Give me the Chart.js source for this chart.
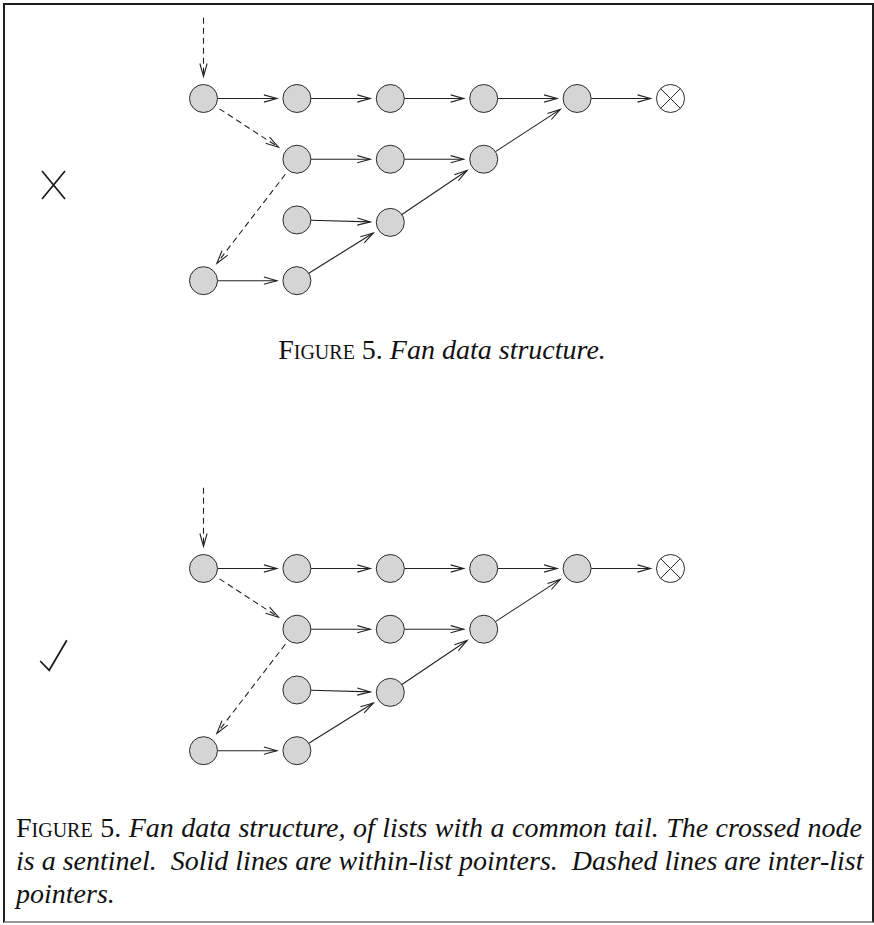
<!DOCTYPE html>
<html>
<head>
<meta charset="utf-8">
<script src="https://cdn.jsdelivr.net/npm/chart.js@4.4.1/dist/chart.umd.min.js"></script>
<style>
  html, body { margin:0; padding:0; background:#fff; }
  #page { position:relative; width:874px; height:925px; overflow:hidden; }
  #frame { position:absolute; left:3px; top:3px; width:871px; height:920px; box-sizing:border-box;
    border:2px solid #1e1e1e; border-bottom-color:#9a9a9a; }
  canvas { position:absolute; left:0; }
  .cap { position:absolute; font-family:"Liberation Serif", "Times New Roman", serif; font-size:28px;
    line-height:33px; color:#111; white-space:nowrap; }
  .sc { font-variant:small-caps; }
  .it { font-style:italic; }
  .just { text-align:justify; text-align-last:justify; }
</style>
</head>
<body>
<div id="page">
  <div id="frame"></div>
  <canvas id="topChart" width="874" height="330" style="top:0px"></canvas>
  <canvas id="bottomChart" width="874" height="330" style="top:470px"></canvas>
  <div class="cap" style="left:0;width:884px;top:333px;text-align:center;">
    <span class="sc">Figure</span> 5. <span class="it">Fan data structure.</span>
  </div>
  <div class="cap" style="left:16px;width:846px;top:811px;">
    <div class="just"><span class="sc">Figure</span> 5. <span class="it">Fan data structure, of lists with a common tail. The crossed node</span></div>
    <div class="just it">is a sentinel.&nbsp; Solid lines are within-list pointers.&nbsp; Dashed lines are inter-list</div>
    <div class="it">pointers.</div>
  </div>
</div>
<script>
// node grid positions: column and row of every list node
const nodeCols = [0, 1, 2, 3, 4, 1, 2, 3, 1, 2,    0, 1, 5];
const nodeRows = [0, 0, 0, 0, 0, 1, 1, 1, 2, 2.04, 3, 3, 0];
const sentinelIndex = 12;

// pointers between nodes (indices into the arrays above)
const solidEdges = [[0,1],[1,2],[2,3],[3,4],[4,12],[5,6],[6,7],[7,4],[8,9],[9,7],[10,11],[11,9]];
const dashedEdges = [[0,5],[5,10]];
// the incoming head pointer starts above node 0
const headStart = {x:0, y:-1.33};
const headTarget = 0;

// where the left mark (cross or tick) sits
const markPos = {x:-1.606, y:1.424};

const nodeR = 14;

function nodePoint(i) {
  return {x: nodeCols[i], y: nodeRows[i]};
}

function arrow(ctx, a, b, startOff, endOff, dashed) {
  var dx = b.x - a.x, dy = b.y - a.y;
  var len = Math.sqrt(dx*dx + dy*dy);
  var ux = dx/len, uy = dy/len;
  var sx = a.x + ux*startOff, sy = a.y + uy*startOff;
  var ex = b.x - ux*endOff, ey = b.y - uy*endOff;
  ctx.save();
  ctx.strokeStyle = '#222';
  ctx.lineWidth = 1.1;
  if (dashed) ctx.setLineDash([6, 4]);
  ctx.beginPath();
  ctx.moveTo(sx, sy);
  ctx.lineTo(ex, ey);
  ctx.stroke();
  ctx.setLineDash([]);
  // open arrow head
  var hl = 13, hw = 3.6;
  var px = -uy, py = ux;
  ctx.beginPath();
  ctx.moveTo(ex - ux*hl + px*hw, ey - uy*hl + py*hw);
  ctx.lineTo(ex, ey);
  ctx.lineTo(ex - ux*hl - px*hw, ey - uy*hl - py*hw);
  ctx.stroke();
  ctx.restore();
}

const arrowPlugin = {
  id: 'arrows',
  beforeDatasetsDraw(chart) {
    const ctx = chart.ctx, xs = chart.scales.x, ys = chart.scales.y;
    const px = p => ({x: xs.getPixelForValue(p.x), y: ys.getPixelForValue(p.y)});
    solidEdges.forEach(e => arrow(ctx, px(nodePoint(e[0])), px(nodePoint(e[1])), nodeR, 20, false));
    dashedEdges.forEach(e => arrow(ctx, px(nodePoint(e[0])), px(nodePoint(e[1])), 19, 22, true));
    arrow(ctx, px(headStart), px(nodePoint(headTarget)), 0, 22, true);
  },
  afterDraw(chart, args, opts) {
    const ctx = chart.ctx;
    const cx = chart.scales.x.getPixelForValue(markPos.x);
    const cy = chart.scales.y.getPixelForValue(markPos.y);
    ctx.save();
    ctx.strokeStyle = '#1a1a1a';
    ctx.lineWidth = 1.7;
    ctx.beginPath();
    if (opts.mark === 'cross') {
      ctx.moveTo(cx - 11.5, cy - 14); ctx.lineTo(cx + 11.5, cy + 14);
      ctx.moveTo(cx + 11.5, cy - 14); ctx.lineTo(cx - 11.5, cy + 14);
    } else {
      ctx.moveTo(cx - 13.3, cy + 6);
      ctx.lineTo(cx - 4.3, cy + 15.3);
      ctx.lineTo(cx + 13.3, cy - 14.7);
    }
    ctx.stroke();
    ctx.restore();
  }
};

function makeChart(id, mark) {
  const plain = [];
  nodeCols.forEach((c, i) => {
    if (i !== sentinelIndex) plain.push(nodePoint(i));
  });
  return new Chart(document.getElementById(id), {
    type: 'scatter',
    data: {
      // lower order is drawn on top
      datasets: [{
        data: plain,
        order: 0,
        pointRadius: nodeR,
        pointBackgroundColor: '#d4d5d4',
        pointBorderColor: '#2a2a2a',
        pointBorderWidth: 1
      }, {
        data: [nodePoint(sentinelIndex)],
        order: 1,
        pointStyle: 'crossRot',
        pointRadius: nodeR,
        pointBackgroundColor: 'rgba(0,0,0,0)',
        pointBorderColor: '#2a2a2a',
        pointBorderWidth: 1
      }, {
        data: [nodePoint(sentinelIndex)],
        order: 2,
        pointRadius: nodeR,
        pointBackgroundColor: '#fff',
        pointBorderColor: '#2a2a2a',
        pointBorderWidth: 1
      }]
    },
    options: {
      responsive: false,
      animation: false,
      events: [],
      layout: { padding: 0, autoPadding: false },
      plugins: {
        legend: { display: false },
        tooltip: { enabled: false },
        arrows: { mark: mark }
      },
      scales: {
        x: { type: 'linear', min: -2.1788, max: 7.1788, display: false },
        y: { type: 'linear', min: -1.6219, max: 3.812, reverse: true, display: false }
      }
    },
    plugins: [arrowPlugin]
  });
}

makeChart('topChart', 'cross');
makeChart('bottomChart', 'check');
</script>
</body>
</html>
